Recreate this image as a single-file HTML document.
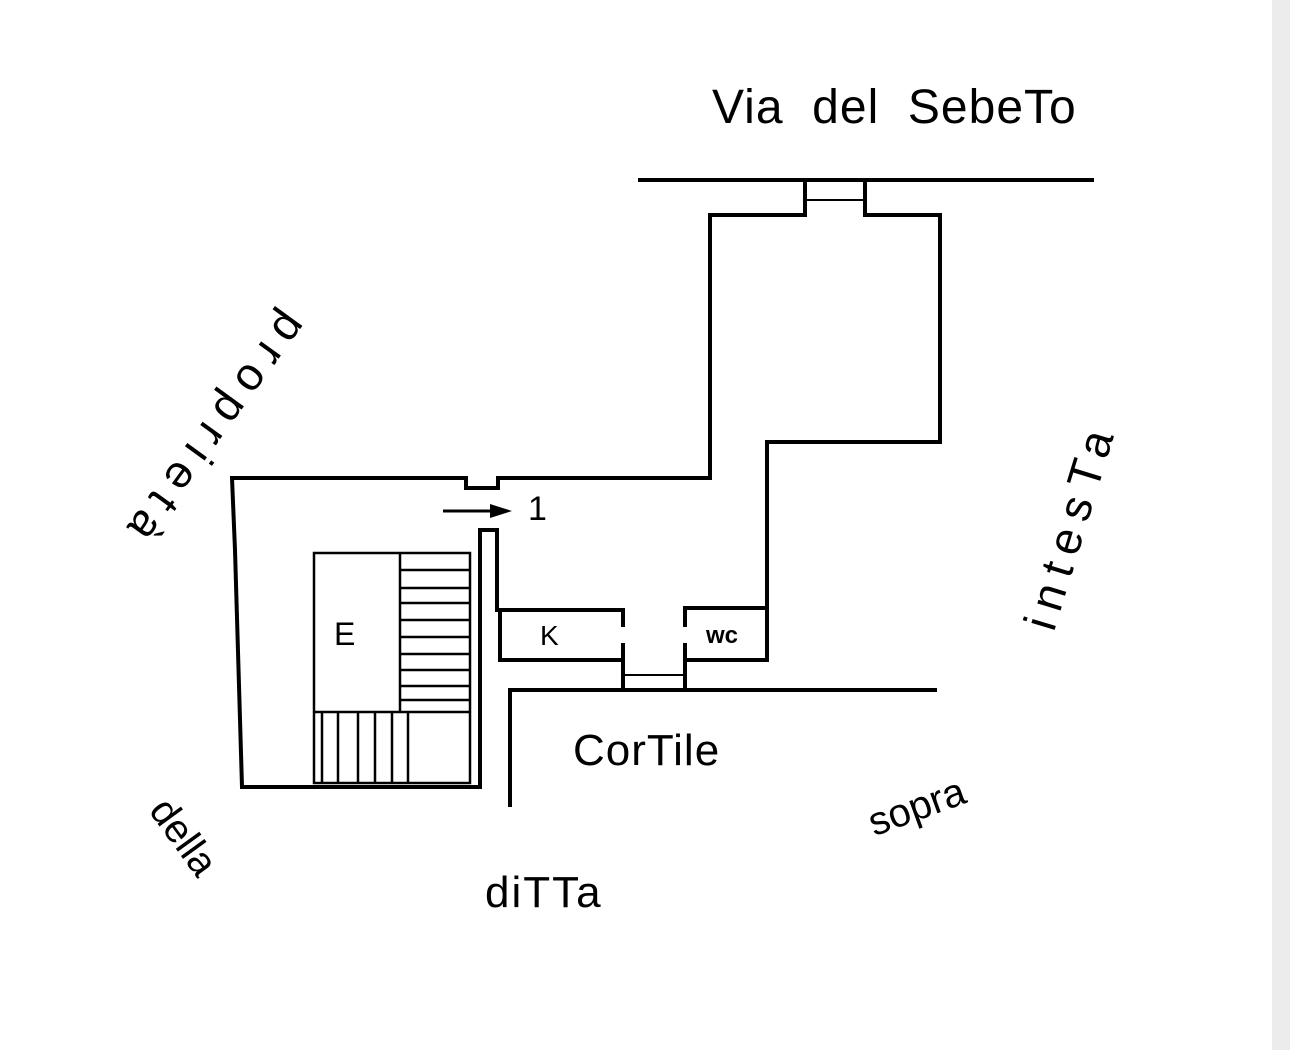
<!DOCTYPE html>
<html><head><meta charset="utf-8"><style>
html,body{margin:0;padding:0;background:#fff;width:1290px;height:1050px;overflow:hidden;position:relative}
.strip{position:absolute;left:1272px;top:0;width:18px;height:1050px;background:#ececec}
.t{position:absolute;font-family:"Liberation Sans",sans-serif;color:#000;white-space:nowrap;transform-origin:center center}
</style></head><body>
<div class="strip"></div>
<svg width="1290" height="1050" style="position:absolute;left:0;top:0">
<g stroke="#000" stroke-width="4" fill="none" stroke-linecap="square">
<line x1="640" y1="180" x2="1092" y2="180"/>
<line x1="805" y1="180" x2="805" y2="215"/>
<line x1="865" y1="180" x2="865" y2="215"/>
<line x1="805" y1="200" x2="865" y2="200" stroke-width="2"/>
<polyline points="805,215 710,215 710,478"/>
<polyline points="865,215 940,215 940,442 767,442 767,660 685,660"/>
<polyline points="710,478 498,478 498,488 466,488 466,478 232,478 235,550 242,787 480,787"/>
<polyline points="480,787 480,530 497,530 497,610"/>
<polyline points="500,610 623,610 623,625"/>
<line x1="623" y1="645" x2="623" y2="690"/>
<line x1="500" y1="610" x2="500" y2="660"/>
<line x1="500" y1="660" x2="623" y2="660"/>
<polyline points="685,625 685,608 767,608"/>
<line x1="685" y1="645" x2="685" y2="690"/>
<line x1="623" y1="675" x2="685" y2="675" stroke-width="2"/>
<polyline points="510,805 510,690 935,690"/>
</g>
<g stroke="#000" stroke-width="2.5" fill="none">
<rect x="314" y="553" width="156" height="230"/>
<line x1="400" y1="553" x2="400" y2="712"/>
<line x1="314" y1="712" x2="470" y2="712"/>
<line x1="322" y1="712" x2="322" y2="783"/>
<line x1="338" y1="712" x2="338" y2="783"/>
<line x1="358" y1="712" x2="358" y2="783"/>
<line x1="375" y1="712" x2="375" y2="783"/>
<line x1="392" y1="712" x2="392" y2="783"/>
<line x1="408" y1="712" x2="408" y2="783"/>
<line x1="400" y1="570" x2="470" y2="570"/>
<line x1="400" y1="588" x2="470" y2="588"/>
<line x1="400" y1="603" x2="470" y2="603"/>
<line x1="400" y1="620" x2="470" y2="620"/>
<line x1="400" y1="637" x2="470" y2="637"/>
<line x1="400" y1="654" x2="470" y2="654"/>
<line x1="400" y1="670" x2="470" y2="670"/>
<line x1="400" y1="686" x2="470" y2="686"/>
<line x1="400" y1="700" x2="470" y2="700"/>
<line x1="443" y1="511" x2="495" y2="511" stroke-width="3"/>
</g>
<polygon points="490,504 512,511 490,518" fill="#000"/>
</svg>
<div class="t" style="left:712px;top:80px;font-size:48px;letter-spacing:1px">Via&nbsp; del&nbsp; SebeTo</div>
<div class="t" style="left:528px;top:490px;font-size:34px">1</div>
<div class="t" style="left:334px;top:616px;font-size:32px">E</div>
<div class="t" style="left:540px;top:620px;font-size:28px">K</div>
<div class="t" style="left:706px;top:622px;font-size:24px;font-weight:bold">wc</div>
<div class="t" style="left:573px;top:726px;font-size:44px;letter-spacing:1px">CorTile</div>
<div class="t" style="left:485px;top:868px;font-size:44px;letter-spacing:2px">diTTa</div>
<div class="t" style="left:65px;top:405px;width:300px;text-align:center;font-size:46px;letter-spacing:11px;transform:rotate(126deg)">proprietà</div>
<div class="t" style="left:940px;top:498px;width:260px;text-align:center;font-size:46px;letter-spacing:10px;transform:rotate(-73deg)">intesTa</div>
<div class="t" style="left:128px;top:815px;width:110px;text-align:center;font-size:40px;transform:rotate(54deg)">della</div>
<div class="t" style="left:852px;top:785px;width:130px;text-align:center;font-size:40px;transform:rotate(-20deg)">sopra</div>
</body></html>
